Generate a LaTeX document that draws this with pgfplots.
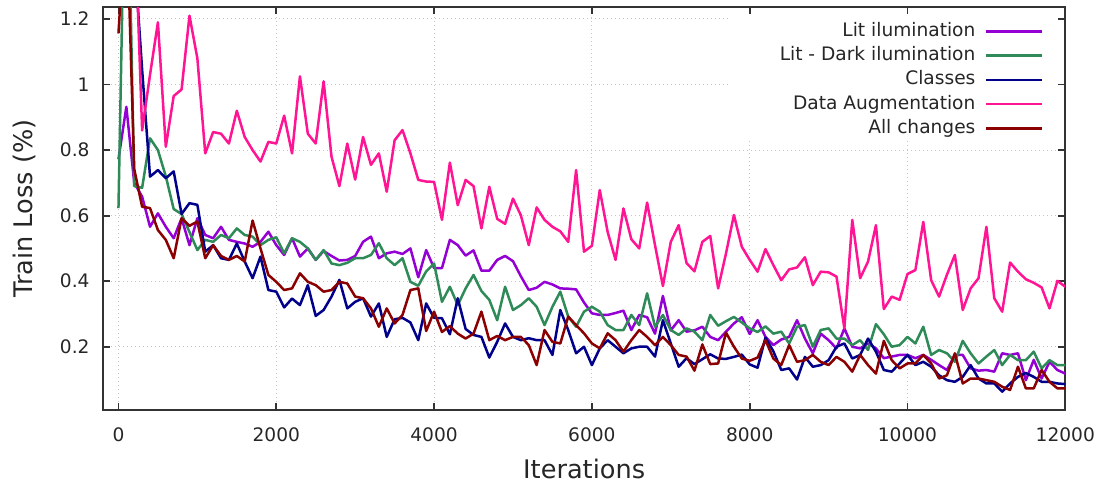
\documentclass[border=0pt]{standalone}
\usepackage{fontspec}
\setmainfont{DejaVu Sans}
\usepackage{pgfplots}
\pgfplotsset{compat=1.18}

\definecolor{litcol}{HTML}{9400D3}
\definecolor{darkcol}{HTML}{2E8B57}
\definecolor{classcol}{HTML}{00008B}
\definecolor{augcol}{HTML}{FF1493}
\definecolor{allcol}{HTML}{8B0000}

\pgfplotsset{
  losscurve/.style={line width=1.25pt, no markers, line join=round},
  legend image code/.code={\draw[#1, line width=1.25pt] (0pt,0pt) -- (28pt,0pt);},
}

\begin{document}
\begin{tikzpicture}
\begin{axis}[
  at={(0,0)}, anchor=south west,
  scale only axis, width=481.15pt, height=201.35pt,
  xmin=-196, xmax=12000, ymin=0.007, ymax=1.2357,
  xtick={0,2000,4000,6000,8000,10000,12000},
  ytick={0.2,0.4,0.6,0.8,1,1.2},
  scaled x ticks=false,
  /pgf/number format/.cd, 1000 sep={}, assume math mode=true, /pgfplots/.cd,
  tick align=inside, major tick length=3.5pt,
  axis line style={black!80, line width=0.9pt},
  tick style={black!80, line width=0.9pt},
  grid=major,
  grid style={gray!45, line width=0.5pt, dash pattern=on 0.5pt off 1.5pt},
  ticklabel style={font=\fontsize{9.3}{11}\selectfont, text=black!85},
  xticklabel style={yshift=-5.4pt},
  yticklabel style={xshift=-3.2pt},
  xlabel={Iterations}, ylabel={Train Loss (\%)},
  label style={font=\fontsize{12.8}{15}\selectfont, text=black!85},
  xlabel style={at={(axis description cs:0.5,-0.1465)}, anchor=center},
  ylabel style={at={(axis description cs:-0.0811,0.5)}, anchor=center},
  legend plot pos=right, legend cell align=right,
  legend style={at={(axis description cs:1,1)}, anchor=north east,
    xshift=-10.65pt, yshift=-7.4pt, draw=none, fill=none, inner sep=0pt,
    font=\fontsize{9.3}{11}\selectfont, text=black!85, row sep=3.1pt,
    nodes={inner sep=0pt, text height=7pt, text depth=2pt},
    /tikz/every odd column/.append style={column sep=4.85pt}},
]

% blank area behind the key
\fill[white] (axis cs:7763,0.835) rectangle (axis cs:11880,1.2076);

\addplot[losscurve, litcol] coordinates {
(0,0.772) (100,0.932) (200,0.70) (300,0.658) (400,0.566) (500,0.607) (600,0.566) (700,0.531) (800,0.592) (900,0.51)
(1000,0.592) (1100,0.541) (1200,0.531) (1300,0.566) (1400,0.526) (1500,0.52) (1600,0.515) (1700,0.505) (1800,0.52) (1900,0.551)
(2000,0.51) (2100,0.48) (2200,0.531) (2300,0.475) (2400,0.50) (2500,0.465) (2600,0.492) (2700,0.477) (2800,0.463) (2900,0.465)
(3000,0.477) (3100,0.52) (3200,0.536) (3300,0.47) (3400,0.485) (3500,0.49) (3600,0.483) (3700,0.50) (3800,0.412) (3900,0.495)
(4000,0.44) (4100,0.44) (4200,0.526) (4300,0.51) (4400,0.478) (4500,0.494) (4600,0.432) (4700,0.432) (4800,0.465) (4900,0.477)
(5000,0.461) (5100,0.415) (5200,0.373) (5300,0.38) (5400,0.398) (5500,0.39) (5600,0.378) (5700,0.377) (5800,0.375) (5900,0.335)
(6000,0.302) (6100,0.297) (6200,0.297) (6300,0.303) (6400,0.31) (6500,0.251) (6600,0.297) (6700,0.29) (6800,0.24) (6900,0.355)
(7000,0.25) (7100,0.281) (7200,0.246) (7300,0.25) (7400,0.261) (7500,0.23) (7600,0.22) (7700,0.246) (7800,0.271) (7900,0.29)
(8000,0.239) (8100,0.281) (8200,0.23) (8300,0.205) (8400,0.222) (8500,0.23) (8600,0.281) (8700,0.225) (8800,0.18) (8900,0.24)
(9000,0.22) (9100,0.195) (9200,0.256) (9300,0.2) (9400,0.195) (9500,0.21) (9600,0.195) (9700,0.165) (9800,0.17) (9900,0.175)
(10000,0.175) (10100,0.165) (10200,0.175) (10300,0.16) (10400,0.144) (10500,0.129) (10600,0.175) (10700,0.175) (10800,0.134) (10900,0.127)
(11000,0.129) (11100,0.124) (11200,0.18) (11300,0.175) (11400,0.18) (11500,0.098) (11600,0.16) (11700,0.103) (11800,0.154) (11900,0.129)
(12000,0.118)
};
\addlegendentry{Lit ilumination}

\addplot[losscurve, darkcol] coordinates {
(0,0.623) (100,1.9) (200,0.69) (300,0.685) (400,0.836) (500,0.80) (600,0.72) (700,0.62) (800,0.605) (900,0.55)
(1000,0.495) (1100,0.526) (1200,0.52) (1300,0.541) (1400,0.531) (1500,0.561) (1600,0.541) (1700,0.536) (1800,0.51) (1900,0.526)
(2000,0.534) (2100,0.485) (2200,0.531) (2300,0.52) (2400,0.50) (2500,0.465) (2600,0.495) (2700,0.454) (2800,0.449) (2900,0.456)
(3000,0.47) (3100,0.47) (3200,0.48) (3300,0.516) (3400,0.47) (3500,0.449) (3600,0.47) (3700,0.398) (3800,0.386) (3900,0.43)
(4000,0.454) (4100,0.337) (4200,0.383) (4300,0.327) (4400,0.378) (4500,0.419) (4600,0.37) (4700,0.343) (4800,0.281) (4900,0.383)
(5000,0.312) (5100,0.327) (5200,0.348) (5300,0.322) (5400,0.266) (5500,0.322) (5600,0.368) (5700,0.292) (5800,0.261) (5900,0.307)
(6000,0.322) (6100,0.307) (6200,0.266) (6300,0.251) (6400,0.251) (6500,0.297) (6600,0.266) (6700,0.363) (6800,0.261) (6900,0.297)
(7000,0.251) (7100,0.236) (7200,0.256) (7300,0.246) (7400,0.22) (7500,0.297) (7600,0.264) (7700,0.278) (7800,0.291) (7900,0.274)
(8000,0.256) (8100,0.245) (8200,0.262) (8300,0.24) (8400,0.246) (8500,0.21) (8600,0.261) (8700,0.266) (8800,0.2) (8900,0.251)
(9000,0.256) (9100,0.225) (9200,0.225) (9300,0.205) (9400,0.22) (9500,0.19) (9600,0.269) (9700,0.238) (9800,0.2) (9900,0.205)
(10000,0.23) (10100,0.21) (10200,0.261) (10300,0.175) (10400,0.19) (10500,0.18) (10600,0.154) (10700,0.218) (10800,0.18) (10900,0.149)
(11000,0.17) (11100,0.19) (11200,0.144) (11300,0.175) (11400,0.159) (11500,0.159) (11600,0.185) (11700,0.134) (11800,0.159) (11900,0.144)
(12000,0.144)
};
\addlegendentry{Lit - Dark ilumination}

\addplot[losscurve, classcol] coordinates {
(0,1.7) (100,1.6) (200,1.40) (300,1.045) (400,0.719) (500,0.739) (600,0.714) (700,0.735) (800,0.605) (900,0.638)
(1000,0.633) (1100,0.49) (1200,0.51) (1300,0.47) (1400,0.465) (1500,0.515) (1600,0.46) (1700,0.409) (1800,0.475) (1900,0.373)
(2000,0.368) (2100,0.32) (2200,0.347) (2300,0.327) (2400,0.388) (2500,0.294) (2600,0.312) (2700,0.353) (2800,0.404) (2900,0.317)
(3000,0.337) (3100,0.348) (3200,0.292) (3300,0.332) (3400,0.23) (3500,0.284) (3600,0.288) (3700,0.274) (3800,0.22) (3900,0.332)
(4000,0.288) (4100,0.287) (4200,0.238) (4300,0.348) (4400,0.254) (4500,0.236) (4600,0.23) (4700,0.167) (4800,0.215) (4900,0.271)
(5000,0.23) (5100,0.22) (5200,0.226) (5300,0.22) (5400,0.22) (5500,0.175) (5600,0.312) (5700,0.251) (5800,0.18) (5900,0.2)
(6000,0.144) (6100,0.195) (6200,0.22) (6300,0.2) (6400,0.18) (6500,0.195) (6600,0.2) (6700,0.2) (6800,0.17) (6900,0.281)
(7000,0.21) (7100,0.139) (7200,0.165) (7300,0.147) (7400,0.162) (7500,0.177) (7600,0.164) (7700,0.163) (7800,0.169) (7900,0.176)
(8000,0.146) (8100,0.136) (8200,0.228) (8300,0.186) (8400,0.129) (8500,0.134) (8600,0.1) (8700,0.169) (8800,0.139) (8900,0.144)
(9000,0.159) (9100,0.2) (9200,0.21) (9300,0.164) (9400,0.175) (9500,0.225) (9600,0.185) (9700,0.129) (9800,0.124) (9900,0.149)
(10000,0.175) (10100,0.144) (10200,0.154) (10300,0.139) (10400,0.113) (10500,0.098) (10600,0.093) (10700,0.108) (10800,0.144) (10900,0.103)
(11000,0.088) (11100,0.088) (11200,0.063) (11300,0.088) (11400,0.108) (11500,0.12) (11600,0.108) (11700,0.093) (11800,0.093) (11900,0.088)
(12000,0.086)
};
\addlegendentry{Classes}

\addplot[losscurve, augcol] coordinates {
(0,1.9) (100,1.7) (200,1.55) (300,0.86) (400,1.03) (500,1.19) (600,0.81) (700,0.965) (800,0.985) (900,1.21)
(1000,1.08) (1100,0.79) (1200,0.855) (1300,0.85) (1400,0.82) (1500,0.92) (1600,0.84) (1700,0.80) (1800,0.765) (1900,0.825)
(2000,0.82) (2100,0.905) (2200,0.79) (2300,1.025) (2400,0.85) (2500,0.82) (2600,1.01) (2700,0.78) (2800,0.69) (2900,0.82)
(3000,0.71) (3100,0.84) (3200,0.755) (3300,0.79) (3400,0.673) (3500,0.83) (3600,0.861) (3700,0.79) (3800,0.709) (3900,0.704)
(4000,0.703) (4100,0.587) (4200,0.762) (4300,0.632) (4400,0.709) (4500,0.69) (4600,0.561) (4700,0.688) (4800,0.59) (4900,0.575)
(5000,0.652) (5100,0.601) (5200,0.51) (5300,0.625) (5400,0.587) (5500,0.566) (5600,0.552) (5700,0.52) (5800,0.739) (5900,0.49)
(6000,0.508) (6100,0.678) (6200,0.55) (6300,0.465) (6400,0.622) (6500,0.528) (6600,0.5) (6700,0.64) (6800,0.51) (6900,0.385)
(7000,0.52) (7100,0.571) (7200,0.455) (7300,0.43) (7400,0.52) (7500,0.538) (7600,0.378) (7700,0.485) (7800,0.602) (7900,0.505)
(8000,0.465) (8100,0.429) (8200,0.498) (8300,0.449) (8400,0.403) (8500,0.436) (8600,0.442) (8700,0.473) (8800,0.388) (8900,0.429)
(9000,0.427) (9100,0.414) (9200,0.256) (9300,0.587) (9400,0.409) (9500,0.46) (9600,0.571) (9700,0.315) (9800,0.353) (9900,0.343)
(10000,0.422) (10100,0.434) (10200,0.581) (10300,0.403) (10400,0.353) (10500,0.42) (10600,0.48) (10700,0.312) (10800,0.378) (10900,0.409)
(11000,0.566) (11100,0.348) (11200,0.307) (11300,0.457) (11400,0.429) (11500,0.406) (11600,0.395) (11700,0.381) (11800,0.317) (11900,0.401)
(12000,0.383)
};
\addlegendentry{Data Augmentation}

\addplot[losscurve, allcol] coordinates {
(0,1.156) (100,1.55) (200,0.742) (300,0.627) (400,0.623) (500,0.556) (600,0.526) (700,0.47) (800,0.592) (900,0.569)
(1000,0.582) (1100,0.47) (1200,0.51) (1300,0.477) (1400,0.465) (1500,0.477) (1600,0.46) (1700,0.585) (1800,0.5) (1900,0.419)
(2000,0.398) (2100,0.373) (2200,0.378) (2300,0.424) (2400,0.398) (2500,0.388) (2600,0.368) (2700,0.373) (2800,0.398) (2900,0.393)
(3000,0.353) (3100,0.348) (3200,0.317) (3300,0.261) (3400,0.317) (3500,0.271) (3600,0.297) (3700,0.373) (3800,0.378) (3900,0.248)
(4000,0.307) (4100,0.245) (4200,0.263) (4300,0.24) (4400,0.225) (4500,0.24) (4600,0.307) (4700,0.22) (4800,0.233) (4900,0.22)
(5000,0.23) (5100,0.23) (5200,0.205) (5300,0.144) (5400,0.251) (5500,0.215) (5600,0.21) (5700,0.292) (5800,0.266) (5900,0.241)
(6000,0.21) (6100,0.195) (6200,0.241) (6300,0.22) (6400,0.185) (6500,0.22) (6600,0.251) (6700,0.23) (6800,0.205) (6900,0.23)
(7000,0.205) (7100,0.175) (7200,0.17) (7300,0.127) (7400,0.207) (7500,0.147) (7600,0.149) (7700,0.243) (7800,0.2) (7900,0.164)
(8000,0.157) (8100,0.167) (8200,0.22) (8300,0.164) (8400,0.144) (8500,0.205) (8600,0.154) (8700,0.159) (8800,0.175) (8900,0.154)
(9000,0.144) (9100,0.169) (9200,0.154) (9300,0.124) (9400,0.175) (9500,0.144) (9600,0.118) (9700,0.218) (9800,0.159) (9900,0.134)
(10000,0.149) (10100,0.149) (10200,0.175) (10300,0.149) (10400,0.103) (10500,0.113) (10600,0.18) (10700,0.088) (10800,0.103) (10900,0.103)
(11000,0.098) (11100,0.093) (11200,0.078) (11300,0.068) (11400,0.139) (11500,0.073) (11600,0.073) (11700,0.129) (11800,0.093) (11900,0.073)
(12000,0.073)
};
\addlegendentry{All changes}

\end{axis}
\pgfresetboundingbox
\path (-51.5pt,-38pt) rectangle (500pt,205pt);
\end{tikzpicture}
\end{document}
